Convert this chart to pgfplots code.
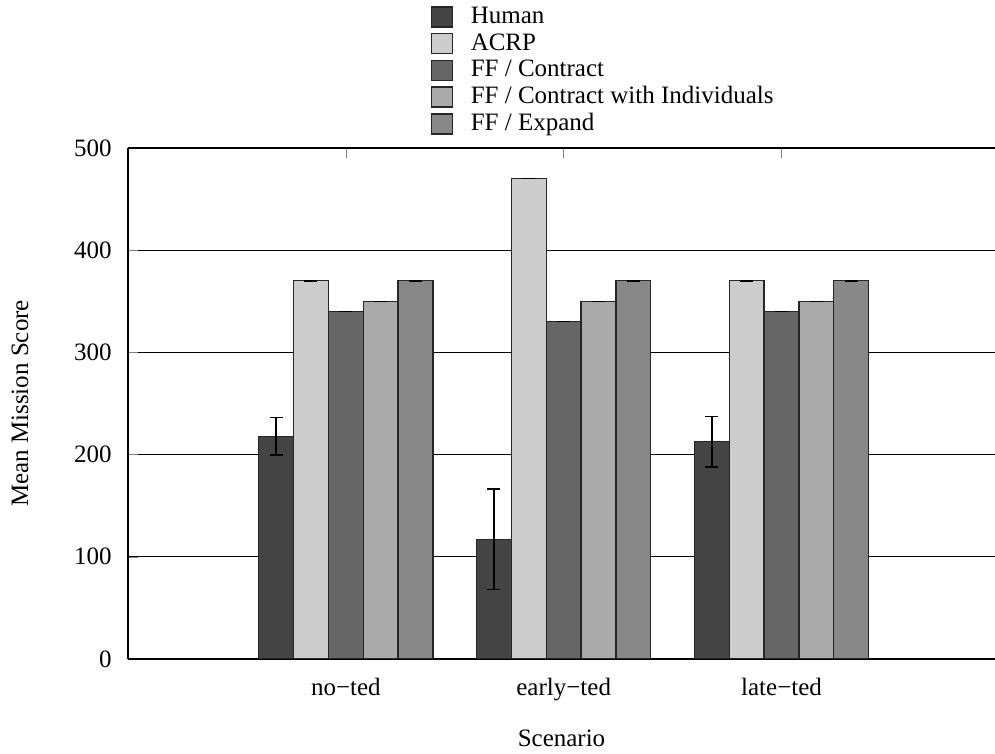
\documentclass[border=0pt]{standalone}
\usepackage{fontspec}
\setmainfont{Liberation Serif}
\usepackage{pgfplots}
\pgfplotsset{compat=1.18}
\definecolor{cHuman}{HTML}{444444}
\definecolor{cAcrp}{HTML}{CCCCCC}
\definecolor{cContract}{HTML}{666666}
\definecolor{cIndiv}{HTML}{AAAAAA}
\definecolor{cExpand}{HTML}{888888}
\pgfplotsset{
  scorebar/.style={ybar, bar width=0.16, bar shift=0pt, draw=black!85, line width=0.5pt,
    error bars/y dir=both, error bars/y explicit,
    error bars/error bar style={black, line width=0.6pt},
    error bars/error mark options={rotate=90, mark size=2.6pt, black, line width=0.6pt}},
}
\begin{document}
\begin{tikzpicture}
\path[use as bounding box] (-51.2pt,-38pt) rectangle (346.8pt,263.6pt);
\begin{axis}[
  scale only axis, width=346.8pt, height=204.4pt,
  separate axis lines,
  axis x line=box, axis y line=left,
  y axis line style={-}, x axis line style={-},
  axis line style={line width=0.6pt},
  xmin=0, xmax=3.98, ymin=0, ymax=500,
  xtick={1,2,3}, xticklabels={no−ted, early−ted, late−ted},
  ytick={0,100,200,300,400,500},
  tick align=inside, major tick length=4pt,
  xtick pos=both, ytick pos=left,
  ymajorgrids, grid style={black, line width=0.5pt},
  tick label style={font=\fontsize{10}{12}\selectfont},
  /pgf/number format/assume math mode=true,
  xticklabel style={yshift=-4pt},
  yticklabel style={xshift=-3pt},
  label style={font=\fontsize{10}{12}\selectfont},
  xlabel={Scenario}, ylabel={Mean Mission Score},
  every axis x label/.style={at={(axis description cs:0.5,0)}, anchor=center, yshift=-31.6pt},
  every axis y label/.style={at={(axis description cs:0,0.5)}, xshift=-43.2pt, rotate=90, anchor=center},
  legend cell align=left,
  legend style={at={(rel axis cs:0,1)}, anchor=north west, xshift=120.8pt, yshift=58pt,
    draw=none, fill=none, inner sep=0pt, column sep=0pt, row sep=0pt,
    font=\fontsize{10}{12}\selectfont,
    nodes={inner sep=0.5pt, text height=7.5pt, text depth=2.2pt}},
  legend image code/.code={
    \draw[#1, line width=0.6pt] (0.4pt,-4pt) rectangle (8.8pt,4pt);
    \path[draw=none, fill=none] (0pt,0pt) -- (15.6pt,0pt);
  },
]
\addplot[scorebar, fill=cHuman] table[x=x, y=y, y error=e] {
x y e
0.68 217.9 18.3
1.68 117.1 49
2.68 212.6 24.5
};
\addlegendentry{Human}
\addplot[scorebar, fill=cAcrp] table[x=x, y=y, y error=e] {
x y e
0.84 370 0
1.84 470 0
2.84 370 0
};
\addlegendentry{ACRP}
\addplot[scorebar, fill=cContract] table[x=x, y=y, y error=e] {
x y e
1.00 340 0
2.00 330 0
3.00 340 0
};
\addlegendentry{FF / Contract}
\addplot[scorebar, fill=cIndiv] table[x=x, y=y, y error=e] {
x y e
1.16 350 0
2.16 350 0
3.16 350 0
};
\addlegendentry{FF / Contract with Individuals}
\addplot[scorebar, fill=cExpand] table[x=x, y=y, y error=e] {
x y e
1.32 370 0
2.32 370 0
3.32 370 0
};
\addlegendentry{FF / Expand}
\end{axis}
\end{tikzpicture}
\end{document}
